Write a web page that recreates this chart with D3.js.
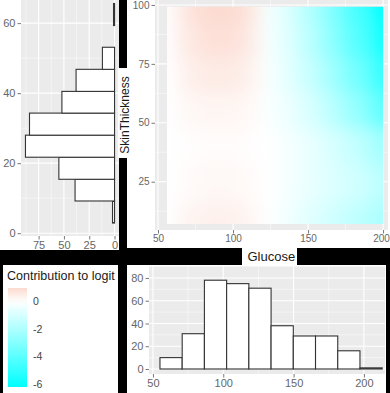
<!DOCTYPE html>
<html>
<head>
<meta charset="utf-8">
<script src="https://cdn.jsdelivr.net/npm/d3@7"></script>
<style>
  body { margin: 0; background: #000; }
  svg { display: block; font-family: "Liberation Sans", Arial, sans-serif; }
</style>
</head>
<body>
<div class="chart"></div>
<script>
var W = 390, H = 393;
var panelBg = "#EBEBEB";
var tickCol = "#666";
var barStroke = "#333";

// SkinThickness histogram (top left, bars grow to the left)
var skinEdges = [2.9, 9.2, 15.4, 21.7, 28.0, 34.3, 40.5, 46.8, 53.1, 59.3, 65.6];
var skinCounts = [2, 39, 55, 88, 84, 52, 38, 12, 0, 1];
var skinTicks = [0, 20, 40, 60];
var skinCountTicks = [0, 25, 50, 75];

// Glucose histogram (bottom right)
var glucoseEdges = [55, 70.8, 86.6, 102.4, 118.2, 134, 149.8, 165.6, 181.4, 197.2, 213];
var glucoseCounts = [10, 31, 78, 75, 71, 38, 29, 29, 16, 1];
var glucoseTicks = [50, 100, 150, 200];
var glucoseCountTicks = [0, 20, 40, 60, 80];

// contribution surface (rows = skin thickness, cols = glucose)
var gridGlucose = [57, 70, 85, 100, 112, 122, 135, 150, 165, 180, 199];
var gridSkin = [99, 85, 70, 55, 40, 25, 7];
var contribution = [
  [0.05, 0.75, 0.95, 0.95, 0.7, -0.2, -0.8, -1.8, -3.0, -4.4, -6.2],
  [0.05, 0.6, 0.8, 0.8, 0.55, -0.2, -0.7, -1.6, -2.7, -4.0, -5.7],
  [0.0, 0.4, 0.55, 0.55, 0.35, -0.1, -0.6, -1.3, -2.2, -3.3, -4.8],
  [0.0, 0.2, 0.25, 0.25, 0.15, -0.1, -0.4, -0.9, -1.6, -2.5, -3.8],
  [0.0, 0.05, 0.08, 0.08, 0.05, 0.0, -0.2, -0.5, -0.9, -1.4, -2.2],
  [0.0, 0.12, 0.18, 0.18, 0.12, 0.0, -0.2, -0.5, -0.8, -1.1, -1.6],
  [0.0, 0.3, 0.38, 0.38, 0.25, 0.0, -0.3, -0.7, -1.1, -1.5, -2.0]
];
var rasterGlucose = [56, 200];
var rasterSkin = [7, 99.2];
var heatSkinTicks = [25, 50, 75, 100];
var legendTicks = [0, -2, -4, -6];
var legendRange = [1.0, -6.2];

var fill = d3.scaleLinear()
  .domain([-6.2, 0, 1.0])
  .range(["#00FFFF", "#FFFFFF", "#FCDACF"]);

var svg = d3.select(".chart").append("svg")
  .attr("width", W).attr("height", H);

svg.append("rect").attr("width", W).attr("height", H).attr("fill", "#000");

// white plot areas
svg.append("rect").attr("x", 0).attr("y", 0).attr("width", 119).attr("height", 250).attr("fill", "#fff");
svg.append("rect").attr("x", 127).attr("y", 0).attr("width", W - 127).attr("height", 248).attr("fill", "#fff");
svg.append("rect").attr("x", 3).attr("y", 265).attr("width", 115).attr("height", H - 265).attr("fill", "#fff");
svg.append("rect").attr("x", 127).attr("y", 265).attr("width", 259).attr("height", H - 265).attr("fill", "#fff");

function minorOf(ticks, dom) {
  var step = ticks[1] - ticks[0];
  var lo = Math.min(dom[0], dom[1]), hi = Math.max(dom[0], dom[1]);
  var out = [];
  for (var t = ticks[0] - step / 2; t <= ticks[ticks.length - 1] + step; t += step) {
    if (t >= lo && t <= hi) out.push(t);
  }
  return out;
}

function panel(g, x, y, xTicks, yTicks) {
  var xr = x.range(), yr = y.range();
  g.append("rect")
    .attr("x", Math.min(xr[0], xr[1])).attr("y", Math.min(yr[0], yr[1]))
    .attr("width", Math.abs(xr[1] - xr[0])).attr("height", Math.abs(yr[1] - yr[0]))
    .attr("fill", panelBg);
  g.selectAll(".vminor").data(minorOf(xTicks, x.domain())).enter().append("line")
    .attr("x1", d => x(d)).attr("x2", d => x(d)).attr("y1", yr[0]).attr("y2", yr[1])
    .attr("stroke", "#fff").attr("stroke-width", 0.5);
  g.selectAll(".hminor").data(minorOf(yTicks, y.domain())).enter().append("line")
    .attr("y1", d => y(d)).attr("y2", d => y(d)).attr("x1", xr[0]).attr("x2", xr[1])
    .attr("stroke", "#fff").attr("stroke-width", 0.5);
  g.selectAll(".vmajor").data(xTicks).enter().append("line")
    .attr("x1", d => x(d)).attr("x2", d => x(d)).attr("y1", yr[0]).attr("y2", yr[1])
    .attr("stroke", "#fff").attr("stroke-width", 1.1);
  g.selectAll(".hmajor").data(yTicks).enter().append("line")
    .attr("y1", d => y(d)).attr("y2", d => y(d)).attr("x1", xr[0]).attr("x2", xr[1])
    .attr("stroke", "#fff").attr("stroke-width", 1.1);
}

function styleAxis(g, size) {
  g.select(".domain").remove();
  g.selectAll("line").attr("stroke", "#555").attr("stroke-width", 0.8);
  g.selectAll("text").attr("fill", tickCol).style("font-size", size + "px")
    .style("font-family", "'Liberation Sans', Arial, sans-serif");
}

// ---------- top-left: SkinThickness histogram ----------
var xA = d3.scaleLinear().domain([92.4, -4.4]).range([21, 119]);
var yA = d3.scaleLinear().domain([-0.8, 68.6]).range([236, -7]);
var gA = svg.append("g");
var clipA = svg.append("clipPath").attr("id", "clipA");
clipA.append("rect").attr("x", 0).attr("y", 0).attr("width", 119).attr("height", 250);
gA.attr("clip-path", "url(#clipA)");
panel(gA, xA, yA, skinCountTicks, skinTicks);
gA.selectAll(".barA").data(skinCounts).enter().append("rect")
  .attr("x", d => xA(d))
  .attr("width", d => xA(0) - xA(d))
  .attr("y", (d, i) => yA(skinEdges[i + 1]))
  .attr("height", (d, i) => yA(skinEdges[i]) - yA(skinEdges[i + 1]))
  .attr("fill", "#fff").attr("stroke", barStroke).attr("stroke-width", 1.1);
gA.append("g").attr("transform", "translate(21,0)")
  .call(d3.axisLeft(yA).tickValues(skinTicks).tickSize(3.5).tickPadding(2))
  .call(g => styleAxis(g, 11));
gA.append("g").attr("transform", "translate(0,236)")
  .call(d3.axisBottom(xA).tickValues(skinCountTicks).tickSize(3.5).tickPadding(1.5))
  .call(g => styleAxis(g, 11));

// ---------- top-right: contribution surface ----------
var xB = d3.scaleLinear().domain([48, 203.3]).range([155, 388]);
var yB = d3.scaleLinear().domain([4.5, 103.8]).range([230, -4]);
var gB = svg.append("g");
var clipB = svg.append("clipPath").attr("id", "clipB");
clipB.append("rect").attr("x", 127).attr("y", 0).attr("width", W - 127).attr("height", 248);
gB.attr("clip-path", "url(#clipB)");
panel(gB, xB, yB, glucoseTicks, heatSkinTicks);

var defs = svg.append("defs");
defs.append("filter").attr("id", "smooth")
  .attr("x", "-20%").attr("y", "-20%").attr("width", "140%").attr("height", "140%")
  .append("feGaussianBlur").attr("stdDeviation", 9);
defs.append("clipPath").attr("id", "rasterClip").append("rect")
  .attr("x", xB(rasterGlucose[0])).attr("y", yB(rasterSkin[1]))
  .attr("width", xB(rasterGlucose[1]) - xB(rasterGlucose[0]))
  .attr("height", yB(rasterSkin[0]) - yB(rasterSkin[1]));

// cell edges halfway between grid centres, outer cells stretched past the clip
var colEdges = [];
for (var c = 0; c <= gridGlucose.length; c++) {
  if (c === 0) colEdges.push(xB(rasterGlucose[0]) - 25);
  else if (c === gridGlucose.length) colEdges.push(xB(rasterGlucose[1]) + 25);
  else colEdges.push(xB((gridGlucose[c - 1] + gridGlucose[c]) / 2));
}
var rowEdges = [];
for (var r = 0; r <= gridSkin.length; r++) {
  if (r === 0) rowEdges.push(yB(rasterSkin[1]) - 25);
  else if (r === gridSkin.length) rowEdges.push(yB(rasterSkin[0]) + 25);
  else rowEdges.push(yB((gridSkin[r - 1] + gridSkin[r]) / 2));
}
var cells = [];
contribution.forEach((row, ri) => row.forEach((v, ci) => cells.push({ r: ri, c: ci, v: v })));
var raster = gB.append("g").attr("clip-path", "url(#rasterClip)")
  .append("g").attr("filter", "url(#smooth)");
raster.selectAll("rect").data(cells).enter().append("rect")
  .attr("x", d => colEdges[d.c])
  .attr("width", d => colEdges[d.c + 1] - colEdges[d.c] + 0.5)
  .attr("y", d => rowEdges[d.r])
  .attr("height", d => rowEdges[d.r + 1] - rowEdges[d.r] + 0.5)
  .attr("fill", d => fill(d.v));

svg.append("g").attr("transform", "translate(155,0)")
  .call(d3.axisLeft(yB).tickValues(heatSkinTicks).tickSize(3.5).tickPadding(2))
  .call(g => styleAxis(g, 10));
svg.append("g").attr("transform", "translate(0,230)")
  .call(d3.axisBottom(xB).tickValues(glucoseTicks).tickSize(3.5).tickPadding(1.5))
  .call(g => styleAxis(g, 10))
  .call(g => g.selectAll("text").filter(d => d === 200).attr("dx", "-2px"));

// axis titles with their white boxes
svg.append("rect").attr("x", 118).attr("y", 68).attr("width", 13).attr("height", 90).attr("fill", "#fff");
svg.append("text")
  .attr("transform", "translate(129,115) rotate(-90)")
  .attr("text-anchor", "middle")
  .style("font-size", "12px").attr("fill", "#1a1a1a")
  .text("SkinThickness");
svg.append("rect").attr("x", 242).attr("y", 246).attr("width", 55).attr("height", 20).attr("fill", "#fff");
svg.append("text")
  .attr("x", xB(125.5)).attr("y", 261)
  .attr("text-anchor", "middle")
  .style("font-size", "13px").attr("fill", "#1a1a1a")
  .text("Glucose");

// ---------- bottom-left: legend ----------
var yL = d3.scaleLinear().domain(legendRange).range([288, 387]);
svg.append("text").attr("x", 7).attr("y", 280)
  .style("font-size", "12.5px").attr("fill", "#1a1a1a")
  .text("Contribution to logit");
var grad = defs.append("linearGradient").attr("id", "legendGrad")
  .attr("x1", 0).attr("y1", 0).attr("x2", 0).attr("y2", 1);
var stops = d3.range(legendRange[0], legendRange[1] - 0.001, -0.4);
stops.push(legendRange[1]);
grad.selectAll("stop").data(stops).enter().append("stop")
  .attr("offset", d => (yL(d) - 288) / 99)
  .attr("stop-color", d => fill(d));
svg.append("rect").attr("x", 8).attr("y", yL(legendRange[0]))
  .attr("width", 19).attr("height", yL(legendRange[1]) - yL(legendRange[0]))
  .attr("fill", "url(#legendGrad)");
svg.selectAll(".legtick").data(legendTicks).enter().append("text")
  .attr("x", 33).attr("y", d => yL(d)).attr("dy", "0.35em")
  .style("font-size", "10.5px").attr("fill", "#444")
  .text(d => String(d));

// ---------- bottom-right: Glucose histogram ----------
var xD = d3.scaleLinear().domain([47.2, 215]).range([149, 385]);
var yD = d3.scaleLinear().domain([-4.4, 90.5]).range([374, 266]);
var gD = svg.append("g");
panel(gD, xD, yD, glucoseTicks, glucoseCountTicks);
gD.selectAll(".barD").data(glucoseCounts).enter().append("rect")
  .attr("x", (d, i) => xD(glucoseEdges[i]))
  .attr("width", (d, i) => xD(glucoseEdges[i + 1]) - xD(glucoseEdges[i]))
  .attr("y", d => yD(d))
  .attr("height", d => yD(0) - yD(d))
  .attr("fill", "#fff").attr("stroke", barStroke).attr("stroke-width", 1.1);
svg.append("g").attr("transform", "translate(149,0)")
  .call(d3.axisLeft(yD).tickValues(glucoseCountTicks).tickSize(3.5).tickPadding(2))
  .call(g => styleAxis(g, 11));
svg.append("g").attr("transform", "translate(0,374)")
  .call(d3.axisBottom(xD).tickValues(glucoseTicks).tickSize(3.5).tickPadding(1.5))
  .call(g => styleAxis(g, 11));
</script>
</body>
</html>
